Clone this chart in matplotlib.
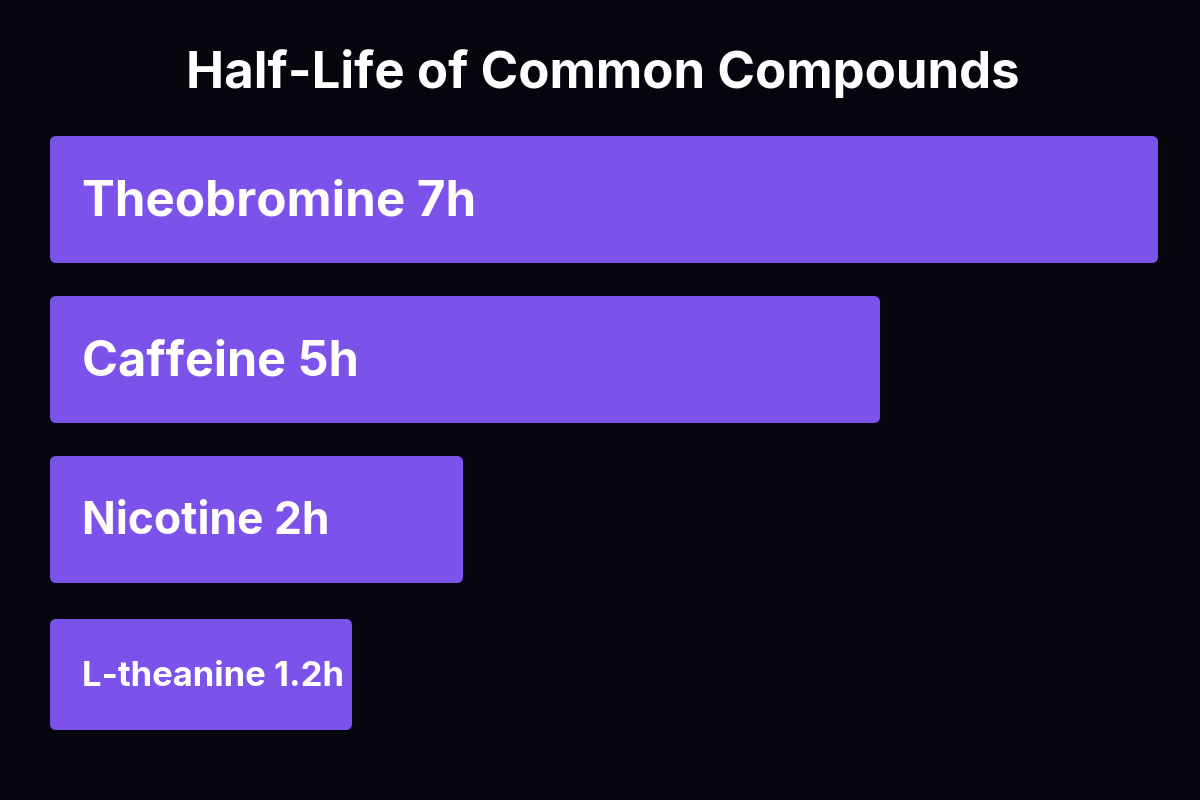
import matplotlib.pyplot as plt

# data
compounds = ["Theobromine", "Caffeine", "Nicotine", "L-theanine"]
half_life_h = [7, 5, 2, 1.2]
value_labels = ["7h", "5h", "2h", "1.2h"]

BG = "#05050e"
BAR = "#7b52ea"
plt.rcParams["font.family"] = ["Inter", "DejaVu Sans"]

fig = plt.figure(figsize=(12, 8), dpi=100, facecolor=BG)

fig.text(0.5025, 0.908, "Half-Life of Common Compounds", ha="center", va="center",
         color="white", fontsize=36.7, fontweight="bold")

# the bars in the original start a bit left of zero, so shift the baseline
base = 0.894
edge_px = 11
ax = fig.add_axes([55.5 / 1200, 0.05125, 1096 / 1200, 0.8])
ax.set_facecolor(BG)
ax.set_xlim(-base, max(half_life_h))
ax.set_ylim(len(compounds) - 0.5, -0.5)
ax.axis("off")

ypos = list(range(len(compounds)))
heights = [0.72, 0.72, 0.72, 0.63]
ypos[-1] -= 0.031
widths = [v + base for v in half_life_h]
bars = ax.barh(ypos, widths, left=-base, height=heights, color=BAR,
               edgecolor=BAR, linewidth=edge_px * 72 / 100, clip_on=False)
for b in bars:
    b.set_joinstyle("round")

sizes = [35.5, 35, 32, 25]
for i, (name, lab) in enumerate(zip(compounds, value_labels)):
    ax.text(-base + 26 / 138.8, ypos[i] + 0.02, f"{name} {lab}", ha="left", va="center",
            color="white", fontsize=sizes[i], fontweight="bold")

fig.savefig("out.png", dpi=100, facecolor=BG)
